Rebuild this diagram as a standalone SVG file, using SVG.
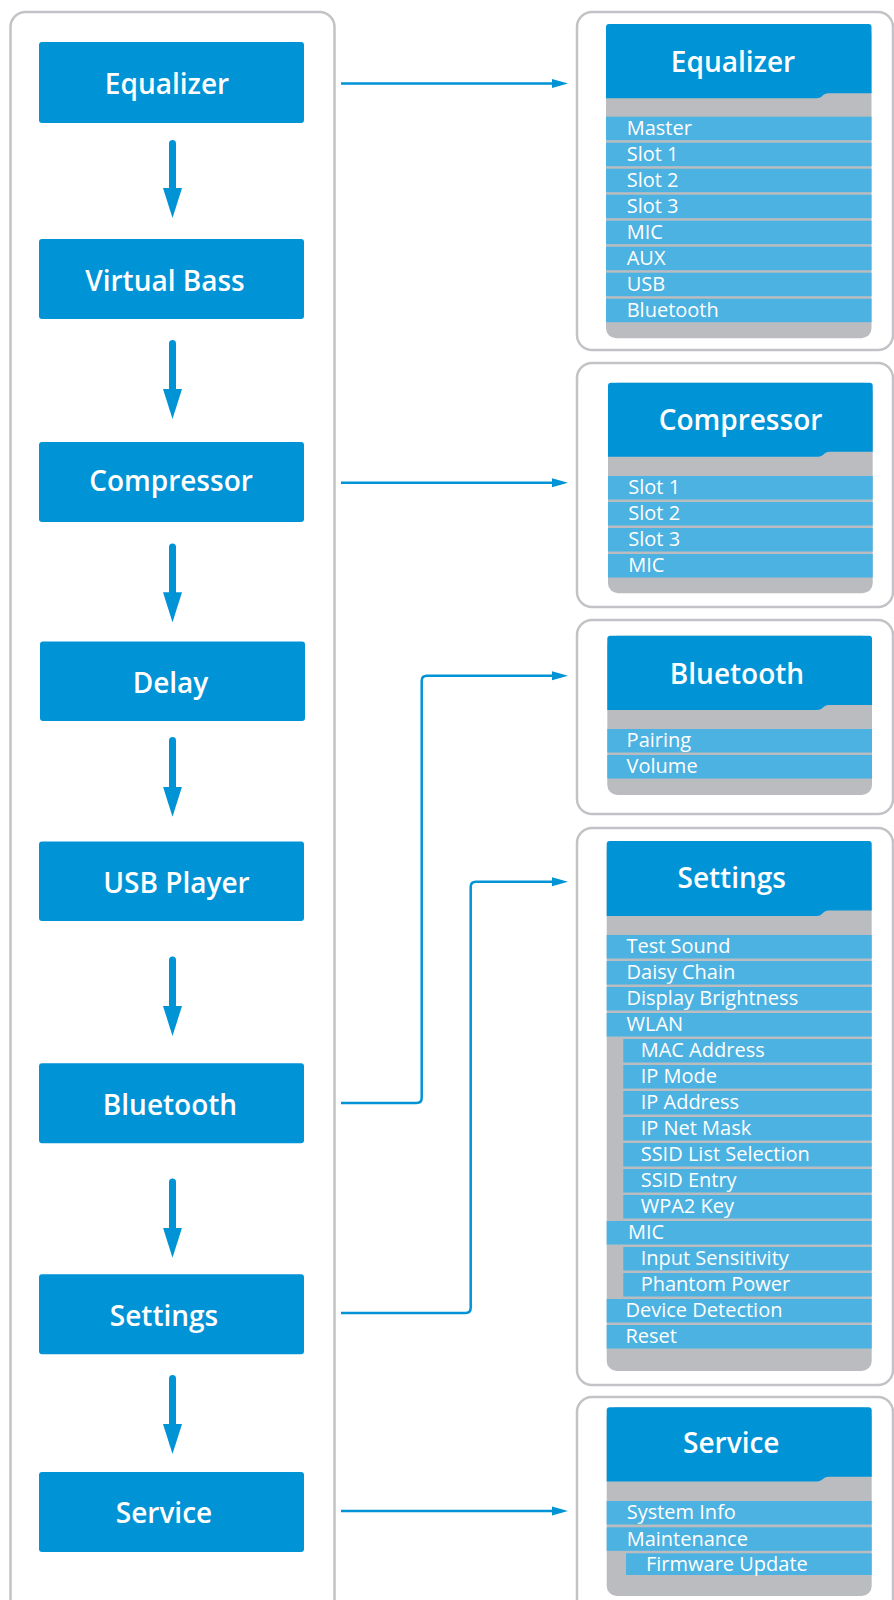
<svg xmlns="http://www.w3.org/2000/svg" width="894" height="1600" viewBox="0 0 894 1600">
<style>
.frame{fill:#fff;stroke:#c2c3c6;stroke-width:2.5}
.node{fill:#0093d6}
.hdr{fill:#0093d6}
.gray{fill:#bbbcc0}
.row{fill:#4bb2e1}
.t{font-family:"Open Sans","Liberation Sans",sans-serif;font-weight:600;font-size:28px;fill:#fff;text-anchor:middle}
.r{font-family:"Open Sans","Liberation Sans",sans-serif;font-size:20px;fill:#fff}
.thick{fill:none;stroke:#0093d6;stroke-width:7;stroke-linecap:round}
.thin{fill:none;stroke:#0093d6;stroke-width:2.5}
</style>
<defs>
<marker id="big" markerUnits="userSpaceOnUse" viewBox="0 0 30 20" markerWidth="30" markerHeight="20" refX="2" refY="10" orient="auto">
<path d="M0,0.5 L30,10 L0,19.5 Z" fill="#0093d6"/>
</marker>
<marker id="small" markerUnits="userSpaceOnUse" viewBox="0 0 16 10" markerWidth="16" markerHeight="10" refX="4" refY="5" orient="auto">
<path d="M0,0.5 L16,5 L0,9.5 Z" fill="#0093d6"/>
</marker>
</defs>

<rect width="894" height="1600" fill="#fff"/>

<!-- left container -->
<rect class="frame" x="10.5" y="12" width="324" height="1620" rx="15"/>

<!-- right panel frames -->
<rect class="frame" x="577" y="12" width="316" height="338" rx="15"/>
<rect class="frame" x="577" y="363" width="316" height="244" rx="15"/>
<rect class="frame" x="577" y="620" width="316" height="194" rx="15"/>
<rect class="frame" x="577" y="828" width="316" height="557" rx="15"/>
<rect class="frame" x="577" y="1397" width="316" height="240" rx="15"/>

<!-- left nodes -->
<g id="n-equalizer"><rect class="node" x="39" y="42" width="265" height="81" rx="3"/><text class="t" x="167" y="94">Equalizer</text></g>
<g id="n-virtualbass"><rect class="node" x="39" y="239" width="265" height="80" rx="3"/><text class="t" x="165" y="290.7">Virtual Bass</text></g>
<g id="n-compressor"><rect class="node" x="39" y="442" width="265" height="80" rx="3"/><text class="t" x="171" y="490.5">Compressor</text></g>
<g id="n-delay"><rect class="node" x="40" y="641.5" width="265" height="79.5" rx="3"/><text class="t" x="170.5" y="692.7">Delay</text></g>
<g id="n-usbplayer"><rect class="node" x="39" y="841.5" width="265" height="79.5" rx="3"/><text class="t" x="176.5" y="892.7">USB Player</text></g>
<g id="n-bluetooth"><rect class="node" x="39" y="1063.3" width="265" height="80" rx="3"/><text class="t" x="170" y="1115">Bluetooth</text></g>
<g id="n-settings"><rect class="node" x="39" y="1274.3" width="265" height="80" rx="3"/><text class="t" x="164" y="1325.7">Settings</text></g>
<g id="n-service"><rect class="node" x="39" y="1472" width="265" height="80" rx="3"/><text class="t" x="164" y="1522.7">Service</text></g>

<!-- connectors -->
<g id="connectors">
<path class="thick" d="M172.5,143.5 V190" marker-end="url(#big)"/>
<path class="thick" d="M172.5,343.5 V391" marker-end="url(#big)"/>
<path class="thick" d="M172.5,547 V594.3" marker-end="url(#big)"/>
<path class="thick" d="M172.5,740.5 V788.7" marker-end="url(#big)"/>
<path class="thick" d="M172.5,960 V1008" marker-end="url(#big)"/>
<path class="thick" d="M172.5,1182 V1229.7" marker-end="url(#big)"/>
<path class="thick" d="M172.5,1378.5 V1426" marker-end="url(#big)"/>
<path class="thin" d="M341,83.5 H556" marker-end="url(#small)"/>
<path class="thin" d="M341,482.7 H556" marker-end="url(#small)"/>
<path class="thin" d="M341,1103 H416.5 Q421.7,1103 421.7,1097.8 V681 Q421.7,675.8 426.9,675.8 H556" marker-end="url(#small)"/>
<path class="thin" d="M341,1313 H465.5 Q470.7,1313 470.7,1307.8 V887 Q470.7,881.8 475.9,881.8 H556" marker-end="url(#small)"/>
<path class="thin" d="M341,1511 H556" marker-end="url(#small)"/>
</g>

<!-- Equalizer panel -->
<g id="p-equalizer">
<rect class="gray" x="606" y="24" width="265.5" height="314.3" rx="10"/>
<path class="hdr" d="M606,27 Q606,24 609,24 H868.5 Q871.5,24 871.5,27 V93.3 H828.5 C822.5,93.3 822.5,98.3 816.5,98.3 H606 Z"/>
<text class="t" x="733" y="71.7">Equalizer</text>
<rect class="row" x="606" y="116.7" width="265.5" height="23.5"/><text class="r" x="626.7" y="135">Master</text>
<rect class="row" x="606" y="142.7" width="265.5" height="23.5"/><text class="r" x="626.7" y="161">Slot 1</text>
<rect class="row" x="606" y="168.7" width="265.5" height="23.5"/><text class="r" x="626.7" y="187">Slot 2</text>
<rect class="row" x="606" y="194.7" width="265.5" height="23.5"/><text class="r" x="626.7" y="213">Slot 3</text>
<rect class="row" x="606" y="220.7" width="265.5" height="23.5"/><text class="r" x="626.7" y="239">MIC</text>
<rect class="row" x="606" y="246.7" width="265.5" height="23.5"/><text class="r" x="626.7" y="265">AUX</text>
<rect class="row" x="606" y="272.7" width="265.5" height="23.5"/><text class="r" x="626.7" y="291">USB</text>
<rect class="row" x="606" y="298.7" width="265.5" height="23.5"/><text class="r" x="626.7" y="317">Bluetooth</text>
</g>

<!-- Compressor panel -->
<g id="p-compressor">
<rect class="gray" x="608" y="382.7" width="264.7" height="210.6" rx="10"/>
<path class="hdr" d="M608,385.7 Q608,382.7 611,382.7 H869.7 Q872.7,382.7 872.7,385.7 V451.7 H829.7 C823.7,451.7 823.7,456.7 817.7,456.7 H608 Z"/>
<text class="t" x="740.5" y="430">Compressor</text>
<rect class="row" x="608" y="476" width="264.7" height="23.5"/><text class="r" x="628.3" y="494.3">Slot 1</text>
<rect class="row" x="608" y="502" width="264.7" height="23.5"/><text class="r" x="628.3" y="520.3">Slot 2</text>
<rect class="row" x="608" y="528" width="264.7" height="23.5"/><text class="r" x="628.3" y="546.3">Slot 3</text>
<rect class="row" x="608" y="554" width="264.7" height="23.5"/><text class="r" x="628.3" y="572.3">MIC</text>
</g>

<!-- Bluetooth panel -->
<g id="p-bluetooth">
<rect class="gray" x="607.3" y="635.7" width="264.7" height="159.3" rx="10"/>
<path class="hdr" d="M607.3,638.7 Q607.3,635.7 610.3,635.7 H869 Q872,635.7 872,638.7 V705 H829 C823,705 823,710 817,710 H607.3 Z"/>
<text class="t" x="737" y="684">Bluetooth</text>
<rect class="row" x="607.3" y="729" width="264.7" height="23.5"/><text class="r" x="626.6" y="747.3">Pairing</text>
<rect class="row" x="607.3" y="755" width="264.7" height="23.5"/><text class="r" x="626.6" y="773.3">Volume</text>
</g>

<!-- Settings panel -->
<g id="p-settings">
<rect class="gray" x="606.7" y="841" width="265" height="530" rx="10"/>
<path class="hdr" d="M606.7,844 Q606.7,841 609.7,841 H868.7 Q871.7,841 871.7,844 V910.5 H828.7 C822.7,910.5 822.7,916 816.7,916 H606.7 Z"/>
<text class="t" x="731.7" y="888.3">Settings</text>
<rect class="row" x="606.7" y="935" width="265" height="23.5"/><text class="r" x="626.5" y="953.3">Test Sound</text>
<rect class="row" x="606.7" y="961" width="265" height="23.5"/><text class="r" x="626.5" y="979.3">Daisy Chain</text>
<rect class="row" x="606.7" y="987" width="265" height="23.5"/><text class="r" x="626.5" y="1005.3">Display Brightness</text>
<rect class="row" x="606.7" y="1013" width="265" height="23.5"/><text class="r" x="626.5" y="1031.3">WLAN</text>
<rect class="row" x="623.3" y="1039" width="248.4" height="23.5"/><text class="r" x="640.7" y="1057.3">MAC Address</text>
<rect class="row" x="623.3" y="1065" width="248.4" height="23.5"/><text class="r" x="640.7" y="1083.3">IP Mode</text>
<rect class="row" x="623.3" y="1091" width="248.4" height="23.5"/><text class="r" x="640.7" y="1109.3">IP Address</text>
<rect class="row" x="623.3" y="1117" width="248.4" height="23.5"/><text class="r" x="640.7" y="1135.3">IP Net Mask</text>
<rect class="row" x="623.3" y="1143" width="248.4" height="23.5"/><text class="r" x="640.7" y="1161.3">SSID List Selection</text>
<rect class="row" x="623.3" y="1169" width="248.4" height="23.5"/><text class="r" x="640.7" y="1187.3">SSID Entry</text>
<rect class="row" x="623.3" y="1195" width="248.4" height="23.5"/><text class="r" x="640.7" y="1213.3">WPA2 Key</text>
<rect class="row" x="606.7" y="1221" width="265" height="23.5"/><text class="r" x="628" y="1239.3">MIC</text>
<rect class="row" x="623.3" y="1247" width="248.4" height="23.5"/><text class="r" x="640.7" y="1265.3">Input Sensitivity</text>
<rect class="row" x="623.3" y="1273" width="248.4" height="23.5"/><text class="r" x="640.7" y="1291.3">Phantom Power</text>
<rect class="row" x="606.7" y="1299" width="265" height="23.5"/><text class="r" x="625.5" y="1317.3">Device Detection</text>
<rect class="row" x="606.7" y="1325" width="265" height="23.5"/><text class="r" x="625.5" y="1343.3">Reset</text>
</g>

<!-- Service panel -->
<g id="p-service">
<rect class="gray" x="606.7" y="1407.3" width="265" height="188.7" rx="10"/>
<path class="hdr" d="M606.7,1410.3 Q606.7,1407.3 609.7,1407.3 H868.7 Q871.7,1407.3 871.7,1410.3 V1476.7 H828.7 C822.7,1476.7 822.7,1481.5 816.7,1481.5 H606.7 Z"/>
<text class="t" x="731.3" y="1453.3">Service</text>
<rect class="row" x="606.7" y="1501" width="265" height="23.5"/><text class="r" x="626.7" y="1519.3">System Info</text>
<rect class="row" x="606.7" y="1527.3" width="265" height="23.5"/><text class="r" x="626.7" y="1545.6">Maintenance</text>
<rect class="row" x="626" y="1553.3" width="245.7" height="21.7"/><text class="r" x="646" y="1570.6">Firmware Update</text>
</g>
</svg>
